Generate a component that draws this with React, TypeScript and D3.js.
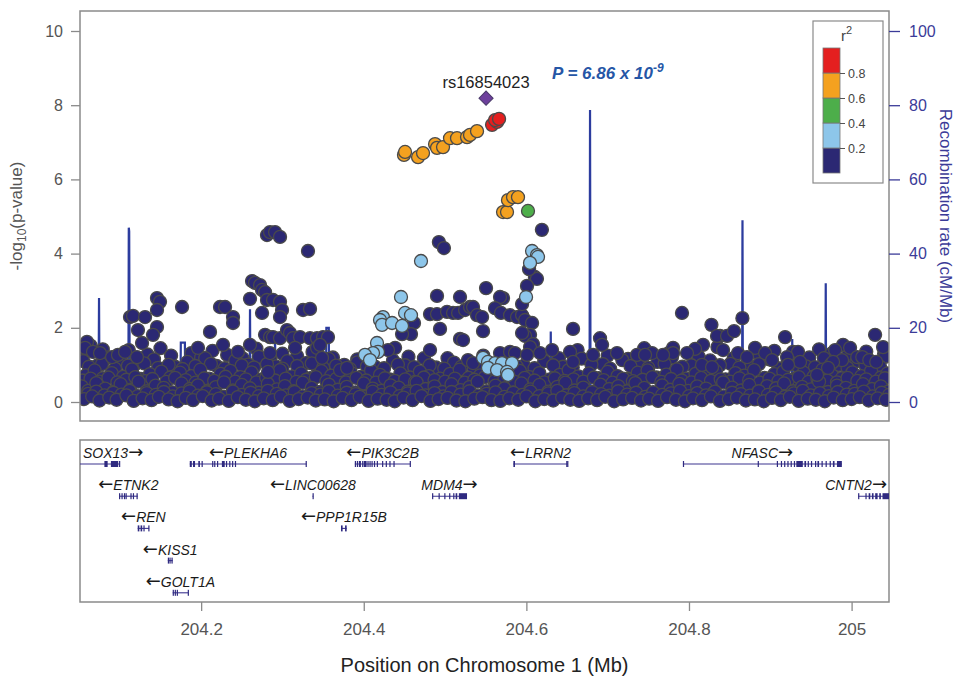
import React, { useEffect, useRef } from 'react';
import * as d3 from 'd3';

// ---- axis ticks ----
const yTicks = [0, 2, 4, 6, 8, 10];
const recTicks = [0, 20, 40, 60, 80, 100];
const xTicks = [204.2, 204.4, 204.6, 204.8, 205];
const xTickLabels = ['204.2', '204.4', '204.6', '204.8', '205'];

// ---- LD legend ----
const ldBreaks = [0, 0.2, 0.4, 0.6, 0.8, 1];
const ldColors = ['#2b2873', '#8dc6ea', '#4dae4a', '#f4a11f', '#e41f1f'];

// ---- SNPs: [position Mb, -log10 p] ----
const leadSnp: [number, number] = [204.5504, 8.19];
const leadSnpName = 'rs16854023';
const leadP = 'P = 6.86 x 10';
const leadPExp = '-9';

const snpsRed: [number, number][] = [
  [204.5578, 7.47], [204.564, 7.55], [204.5615, 7.6], [204.5664, 7.63],
];

const snpsOrange: [number, number][] = [
  [204.4495, 6.66], [204.4508, 6.74], [204.4668, 6.6], [204.4729, 6.71], [204.4877, 6.95],
  [204.4901, 6.85], [204.4975, 6.87], [204.5061, 7.11], [204.5147, 7.11], [204.527, 7.14],
  [204.5307, 7.2], [204.5393, 7.3],
  [204.5713, 5.12], [204.5762, 5.12], [204.5774, 5.44], [204.5836, 5.52], [204.5897, 5.52],
];

const snpsGreen: [number, number][] = [[204.602, 5.15]];

const snpsLightBlue: [number, number][] = [
  [204.4704, 3.8], [204.4458, 2.83], [204.4237, 2.29], [204.42, 2.21], [204.4225, 2.08],
  [204.4348, 2.13], [204.4508, 2.4], [204.4581, 2.34], [204.4471, 2.05], [204.4163, 1.59],
  [204.4175, 1.35], [204.4114, 1.32], [204.4015, 1.27], [204.4077, 1.13],
  [204.5467, 1.19], [204.5528, 1.08], [204.5615, 1.05], [204.5701, 1.05], [204.5824, 1.05],
  [204.5528, 0.92], [204.5639, 0.86], [204.5762, 0.81], [204.5774, 0.73],
  [204.5996, 2.83], [204.607, 4.07], [204.6131, 3.96], [204.6143, 3.91], [204.6045, 3.75],
];

// navy SNPs standing above the dense band
const snpsNavyUpper: [number, number][] = [
  [204.0596, 1.62], [204.0572, 1.46], [204.067, 1.35], [204.0756, 1.32], [204.0904, 1.21],
  [204.0977, 1.27], [204.1064, 1.35], [204.1125, 2.29], [204.1162, 2.32], [204.1223, 1.94],
  [204.1273, 1.59], [204.1211, 1.21], [204.131, 2.29], [204.1457, 2.8], [204.1494, 2.7],
  [204.1457, 2.48], [204.1457, 2.02], [204.1408, 1.81], [204.1765, 2.56], [204.1961, 1.46],
  [204.2109, 1.89], [204.2232, 2.56], [204.2294, 2.56], [204.2392, 2.29], [204.2392, 2.13],
  [204.2269, 1.54], [204.2453, 1.35], [204.2601, 2.78], [204.2626, 3.26], [204.2662, 3.21],
  [204.2724, 3.15], [204.2749, 3.02], [204.2786, 2.96], [204.281, 4.5], [204.2847, 4.58],
  [204.2909, 4.58], [204.297, 4.45], [204.281, 2.75], [204.2884, 2.75], [204.297, 2.7],
  [204.2995, 2.48], [204.297, 2.29], [204.2749, 2.4], [204.2601, 1.54], [204.2786, 1.81],
  [204.2847, 1.75], [204.2884, 1.75], [204.297, 1.72], [204.3056, 1.94], [204.3093, 1.86],
  [204.313, 1.72], [204.3216, 1.75], [204.3155, 1.46], [204.3314, 4.07], [204.3253, 2.48],
  [204.3339, 2.51], [204.3339, 1.72], [204.3425, 1.72], [204.3499, 1.75], [204.356, 1.75],
  [204.3425, 1.46], [204.3462, 1.54], [204.3487, 1.19], [204.3708, 0.86], [204.3794, 0.92],
  [204.2847, 1.32], [204.2822, 0.81],
  [204.4924, 4.31], [204.4986, 4.15], [204.6191, 4.64], [204.6105, 3.37], [204.613, 3.32],
  [204.6033, 3.58], [204.6008, 3.13], [204.5504, 3.07], [204.4901, 2.86], [204.5184, 2.83],
  [204.5713, 2.8], [204.5676, 2.83], [204.4815, 2.37], [204.4901, 2.37], [204.5024, 2.43],
  [204.5098, 2.4], [204.516, 2.4], [204.5246, 2.48], [204.5307, 2.56], [204.5344, 2.56],
  [204.5393, 2.34], [204.5455, 2.29], [204.5615, 2.53], [204.5688, 2.4], [204.5799, 2.34],
  [204.5885, 2.29], [204.5947, 2.34], [204.5984, 2.21], [204.5947, 2.64], [204.4618, 2.13],
  [204.4581, 1.83], [204.4471, 1.83], [204.4938, 1.97], [204.5467, 1.91], [204.607, 2.13],
  [204.6045, 1.81], [204.5984, 1.78], [204.6574, 1.97], [204.5184, 1.7], [204.5221, 1.67],
  [204.4815, 1.4], [204.4385, 1.46], [204.4298, 1.4], [204.6082, 1.56], [204.6045, 1.48],
  [204.5676, 1.32], [204.5799, 1.35], [204.586, 1.32], [204.6008, 1.27], [204.6168, 1.32],
  [204.6316, 1.4], [204.6537, 1.35], [204.6574, 1.08], [204.6906, 1.72], [204.6931, 1.54],
  [204.682, 1.27], [204.7115, 1.32], [204.5282, 1.13], [204.5344, 1.05], [204.5947, 1.86],
  [204.7361, 1.27], [204.7546, 1.32], [204.746, 1.27],
  [204.7914, 2.4], [204.8657, 2.26], [204.8276, 2.08], [204.8382, 1.78], [204.8345, 1.78],
  [204.8468, 1.78], [204.8554, 1.91], [204.8173, 1.54], [204.8075, 1.43], [204.7976, 1.32],
  [204.7804, 1.46], [204.7804, 1.32], [204.7681, 1.27], [204.9182, 1.75], [204.928, 1.35],
  [204.9341, 1.35], [204.9366, 1.08], [204.8813, 1.46], [204.8936, 1.32], [204.9022, 1.13],
  [204.8603, 1.32], [204.8714, 1.21], [204.8419, 1.4], [204.816, 1.0], [204.8284, 0.94],
  [205.0289, 1.81], [205.0387, 1.48], [204.9895, 1.54], [204.9981, 1.46], [204.9797, 1.4],
  [205.0069, 1.21], [205.0131, 1.21], [205.0217, 1.13], [205.0303, 1.08], [204.9883, 1.13],
  [204.9772, 1.08], [204.9575, 0.73], [204.971, 0.92], [204.9206, 1.21], [204.9218, 1.0],
];

// dense band of weak SNPs near zero, read as rows of heights
const bandRowA: [number, number][] = [
  [204.056, .08], [204.066, .15], [204.075, .04], [204.087, .12], [204.096, .06], [204.108, .18],
  [204.117, .03], [204.128, .10], [204.139, .05], [204.148, .14], [204.160, .07], [204.171, .02],
  [204.181, .11], [204.190, .05], [204.202, .16], [204.213, .04], [204.222, .09], [204.234, .03],
  [204.245, .13], [204.255, .06], [204.266, .02], [204.277, .10], [204.288, .05], [204.298, .15],
  [204.309, .03], [204.320, .08], [204.331, .12], [204.341, .04], [204.352, .07], [204.363, .02],
  [204.374, .11], [204.385, .05], [204.395, .14], [204.406, .03], [204.417, .09], [204.428, .06],
  [204.438, .02], [204.449, .12], [204.460, .05], [204.471, .16], [204.482, .03], [204.492, .08],
  [204.503, .11], [204.514, .04], [204.525, .02], [204.536, .09], [204.546, .13], [204.557, .05],
  [204.568, .03], [204.579, .10], [204.590, .06], [204.600, .15], [204.611, .02], [204.622, .08],
  [204.633, .04], [204.644, .12], [204.654, .06], [204.665, .03], [204.676, .10], [204.687, .05],
  [204.697, .14], [204.708, .02], [204.719, .07], [204.730, .11], [204.741, .04], [204.751, .09],
  [204.762, .03], [204.773, .13], [204.784, .06], [204.795, .02], [204.805, .10], [204.816, .05],
  [204.827, .15], [204.838, .03], [204.849, .08], [204.859, .12], [204.870, .04], [204.881, .07],
  [204.892, .02], [204.902, .11], [204.913, .05], [204.924, .14], [204.935, .03], [204.946, .09],
  [204.956, .06], [204.967, .02], [204.978, .12], [204.989, .05], [205.000, .08], [205.010, .13],
  [205.021, .04], [205.032, .10], [205.042, .06],
];
const bandRowE: [number, number][] = [
  [204.061, .22], [204.071, .28], [204.081, .18], [204.092, .25], [204.102, .20], [204.112, .30],
  [204.122, .16], [204.133, .24], [204.144, .19], [204.154, .27], [204.165, .15], [204.176, .23],
  [204.186, .29], [204.196, .17], [204.207, .26], [204.218, .21], [204.228, .14], [204.239, .28],
  [204.250, .19], [204.261, .25], [204.271, .16], [204.282, .30], [204.293, .22], [204.304, .18],
  [204.315, .27], [204.325, .15], [204.336, .24], [204.347, .20], [204.357, .29], [204.368, .17],
  [204.379, .25], [204.390, .21], [204.401, .14], [204.411, .28], [204.422, .19], [204.433, .26],
  [204.444, .16], [204.454, .23], [204.465, .30], [204.476, .18], [204.487, .24], [204.498, .15],
  [204.508, .27], [204.519, .20], [204.530, .29], [204.541, .17], [204.551, .22], [204.562, .26],
  [204.573, .14], [204.584, .25], [204.595, .19], [204.605, .28], [204.616, .16], [204.627, .23],
  [204.638, .30], [204.649, .18], [204.659, .24], [204.670, .15], [204.681, .27], [204.692, .21],
  [204.702, .17], [204.713, .29], [204.724, .20], [204.735, .25], [204.746, .14], [204.756, .26],
  [204.767, .19], [204.778, .23], [204.789, .30], [204.800, .16], [204.810, .24], [204.821, .18],
  [204.832, .28], [204.843, .15], [204.853, .25], [204.864, .21], [204.875, .17], [204.886, .29],
  [204.897, .19], [204.907, .26], [204.918, .14], [204.929, .23], [204.940, .30], [204.950, .18],
  [204.961, .24], [204.972, .16], [204.983, .27], [204.994, .20], [205.004, .22], [205.015, .28],
  [205.026, .15], [205.037, .25], [205.046, .19],
];
const bandRowB: [number, number][] = [
  [204.053, .42], [204.061, .30], [204.071, .51], [204.082, .36], [204.092, .27], [204.101, .48],
  [204.113, .33], [204.123, .55], [204.133, .29], [204.144, .44], [204.154, .38], [204.165, .26],
  [204.176, .50], [204.186, .35], [204.196, .45], [204.207, .28], [204.218, .40], [204.228, .53],
  [204.239, .31], [204.250, .46], [204.260, .37], [204.271, .25], [204.282, .49], [204.293, .34],
  [204.303, .43], [204.314, .29], [204.325, .52], [204.336, .38], [204.346, .27], [204.357, .47],
  [204.368, .33], [204.379, .41], [204.390, .26], [204.400, .50], [204.411, .36], [204.422, .30],
  [204.433, .45], [204.443, .39], [204.454, .28], [204.465, .53], [204.476, .35], [204.487, .42],
  [204.497, .27], [204.508, .48], [204.519, .32], [204.530, .40], [204.540, .55], [204.551, .29],
  [204.562, .44], [204.573, .37], [204.584, .26], [204.594, .50], [204.605, .34], [204.616, .46],
  [204.627, .28], [204.638, .41], [204.648, .52], [204.659, .31], [204.670, .39], [204.681, .27],
  [204.691, .47], [204.702, .35], [204.713, .43], [204.724, .29], [204.734, .51], [204.745, .38],
  [204.756, .26], [204.767, .45], [204.777, .33], [204.788, .49], [204.799, .30], [204.810, .42],
  [204.821, .36], [204.831, .27], [204.842, .53], [204.853, .39], [204.864, .31], [204.874, .46],
  [204.885, .28], [204.896, .43], [204.907, .37], [204.917, .50], [204.928, .29], [204.939, .41],
  [204.950, .34], [204.960, .55], [204.971, .27], [204.982, .44], [204.993, .38], [205.003, .30],
  [205.014, .48], [205.025, .35], [205.036, .42], [205.045, .28],
];
const bandRowF: [number, number][] = [
  [204.054, .58], [204.064, .63], [204.075, .55], [204.086, .66], [204.097, .53], [204.108, .60],
  [204.119, .67], [204.131, .56], [204.140, .62], [204.157, .54], [204.168, .65], [204.181, .59],
  [204.193, .52], [204.204, .64], [204.216, .57], [204.230, .68], [204.242, .55], [204.255, .61],
  [204.268, .53], [204.280, .66], [204.291, .58], [204.304, .63], [204.317, .54], [204.329, .60],
  [204.341, .67], [204.354, .56], [204.366, .62], [204.378, .53], [204.391, .65], [204.403, .58],
  [204.415, .52], [204.426, .64], [204.438, .57], [204.451, .61], [204.463, .54], [204.474, .66],
  [204.487, .59], [204.500, .55], [204.512, .63], [204.524, .52], [204.536, .60], [204.549, .67],
  [204.561, .56], [204.573, .62], [204.586, .54], [204.598, .65], [204.610, .58], [204.622, .53],
  [204.635, .64], [204.647, .57], [204.658, .61], [204.670, .55], [204.683, .66], [204.695, .59],
  [204.706, .52], [204.719, .63], [204.731, .56], [204.743, .60], [204.755, .67], [204.766, .54],
  [204.778, .62], [204.791, .58], [204.803, .53], [204.815, .65], [204.827, .57], [204.839, .61],
  [204.851, .55], [204.862, .64], [204.874, .59], [204.887, .52], [204.899, .63], [204.910, .56],
  [204.922, .60], [204.935, .67], [204.947, .54], [204.958, .62], [204.970, .58], [204.982, .53],
  [204.995, .65], [205.007, .57], [205.018, .61], [205.030, .55], [205.041, .64],
];
const bandRowC: [number, number][] = [
  [204.058, .72], [204.069, .85], [204.079, .64], [204.090, .78], [204.104, .68], [204.115, .88],
  [204.126, .62], [204.137, .75], [204.151, .82], [204.162, .66], [204.174, .79], [204.188, .70],
  [204.199, .87], [204.210, .63], [204.224, .76], [204.236, .84], [204.248, .67], [204.262, .80],
  [204.274, .61], [204.286, .74], [204.297, .86], [204.311, .69], [204.323, .77], [204.334, .64],
  [204.348, .83], [204.360, .71], [204.372, .62], [204.384, .79], [204.397, .68], [204.409, .85],
  [204.420, .73], [204.432, .61], [204.445, .77], [204.457, .66], [204.469, .82], [204.480, .70],
  [204.494, .63], [204.506, .76], [204.518, .87], [204.529, .65], [204.543, .72], [204.555, .80],
  [204.567, .62], [204.580, .75], [204.592, .84], [204.604, .67], [204.616, .78], [204.629, .61],
  [204.641, .73], [204.652, .86], [204.664, .69], [204.677, .77], [204.689, .64], [204.700, .81],
  [204.712, .70], [204.725, .62], [204.737, .79], [204.749, .85], [204.760, .66], [204.772, .74],
  [204.785, .88], [204.797, .63], [204.808, .76], [204.821, .69], [204.833, .83], [204.845, .61],
  [204.857, .78], [204.868, .71], [204.880, .86], [204.893, .65], [204.905, .75], [204.916, .82],
  [204.929, .62], [204.941, .79], [204.953, .68], [204.964, .87], [204.976, .72], [204.988, .64],
  [205.001, .80], [205.012, .70], [205.024, .84], [205.036, .66], [205.044, .77],
];
const bandRowG: [number, number][] = [
  [204.062, .95], [204.078, 1.02], [204.094, .90], [204.110, .98], [204.130, 1.04], [204.147, .92],
  [204.160, 1.00], [204.177, .89], [204.193, .97], [204.212, 1.03], [204.229, .91], [204.250, .99],
  [204.265, .93], [204.281, 1.02], [204.300, .90], [204.318, .97], [204.336, 1.04], [204.350, .92],
  [204.366, .98], [204.383, .89], [204.404, .96], [204.425, .91], [204.442, 1.01], [204.462, .94],
  [204.481, .99], [204.499, .90], [204.520, .95], [204.545, .92], [204.588, .96], [204.610, .91],
  [204.633, .99], [204.657, .93], [204.680, 1.01], [204.703, .90], [204.728, .97], [204.750, .92],
  [204.770, 1.03], [204.792, .95], [204.815, .90], [204.838, .99], [204.862, .93], [204.886, 1.02],
  [204.910, .91], [204.933, .98], [204.955, .94], [204.975, 1.03], [204.995, .92], [205.017, .99],
  [205.035, .95],
];
const bandRowD: [number, number][] = [
  [204.055, 1.10], [204.072, 0.98], [204.085, 1.20], [204.119, 1.02], [204.142, 1.15], [204.168, 0.95],
  [204.183, 1.08], [204.205, 1.18], [204.219, 0.97], [204.242, 1.12], [204.258, 1.01], [204.271, 1.22],
  [204.292, 0.96], [204.306, 1.10], [204.329, 1.05], [204.343, 0.94], [204.357, 1.16], [204.376, 1.00],
  [204.392, 1.07], [204.414, 0.95], [204.436, 1.12], [204.451, 0.99], [204.474, 1.18], [204.489, 0.93],
  [204.511, 1.06], [204.534, 0.96], [204.575, 1.14], [204.597, 0.98], [204.622, 1.10], [204.645, 0.95],
  [204.668, 1.17], [204.694, 1.02], [204.718, 1.13], [204.739, 0.97], [204.761, 1.08], [204.779, 1.20],
  [204.803, 0.99], [204.826, 1.12], [204.851, 1.03], [204.877, 0.95], [204.899, 1.15], [204.921, 1.05],
  [204.944, 0.96], [204.966, 1.18], [204.984, 1.00], [205.006, 1.10], [205.027, 0.94], [205.041, 1.22],
];
const bandRowH: [number, number][] = [
  [204.052, 1.30], [204.064, 1.52], [204.079, 1.42], [204.101, 1.12], [204.111, 1.40], [204.134, 1.28],
  [204.150, 1.45], [204.163, 1.25], [204.188, 1.32], [204.200, 1.20], [204.214, 1.38], [204.232, 1.27],
  [204.251, 1.18], [204.268, 1.44], [204.285, 1.15], [204.300, 1.30], [204.318, 1.24], [204.337, 1.35],
  [204.362, 1.20], [204.392, 1.15], [204.455, 1.22], [204.503, 1.18], [204.547, 1.25], [204.640, 1.18],
  [204.663, 1.40], [204.700, 1.25], [204.725, 1.16], [204.745, 1.45], [204.775, 1.32], [204.812, 1.22],
  [204.835, 1.48], [204.855, 1.18], [204.887, 1.25], [204.905, 1.38], [204.948, 1.20], [204.960, 1.42],
  [204.975, 1.30], [204.995, 1.24], [205.018, 1.36], [205.040, 1.30],
];

// ---- recombination rate (cM/Mb) ----
const recPos = [
  204.051, 204.070, 204.0738, 204.0744, 204.075, 204.095, 204.1105, 204.111, 204.1115, 204.1122,
  204.140, 204.1745, 204.175, 204.180, 204.1805, 204.220, 204.2595, 204.2601, 204.2607, 204.2903,
  204.2909, 204.2915, 204.330, 204.3535, 204.354, 204.357, 204.3575, 204.420, 204.4465, 204.447,
  204.452, 204.4525, 204.500, 204.5665, 204.567, 204.5675, 204.6015, 204.602, 204.6025, 204.6295,
  204.630, 204.6305, 204.6777, 204.6783, 204.6789, 204.7145, 204.715, 204.7155, 204.770, 204.8275,
  204.828, 204.8285, 204.8653, 204.8658, 204.8663, 204.8805, 204.881, 204.8815, 204.9265, 204.927,
  204.9275, 204.9677, 204.9682, 204.9687, 204.9795, 204.980, 204.9805, 205.010, 205.047,
];
const recRate = [
  2, 1.5, 2, 28, 2, 1, 1.5, 47, 46, 2,
  1, 2, 16, 16, 1, 0.8, 2, 25, 1, 1.5,
  19, 1.5, 0.5, 1, 20, 20, 1, 0.5, 1, 6,
  6, 0.5, 0.6, 0.5, 4, 0.5, 0.5, 4, 0.5, 0.5,
  19, 1, 1, 78.7, 1, 1, 8, 1, 1.5, 1,
  7, 1, 1, 49, 1, 1, 5, 1, 1, 17,
  1, 1, 32, 1, 1, 12, 1, 2, 1,
];

// ---- genes ----
type Gene = { name: string; start: number; end: number; strand: 1 | -1; row: number; exons: [number, number][] };
const genes: Gene[] = [
  { name: 'SOX13', start: 204.02, end: 204.1, strand: 1, row: 0,
    exons: [[204.081, 204.085], [204.089, 204.098], [204.099, 204.1]] },
  { name: 'PLEKHA6', start: 204.186, end: 204.3295, strand: -1, row: 0,
    exons: [[204.186, 204.1885], [204.19, 204.1925], [204.1965, 204.1985], [204.2005, 204.2015],
      [204.2135, 204.2145], [204.216, 204.217], [204.2195, 204.2205], [204.2255, 204.229],
      [204.2305, 204.2315], [204.2345, 204.2355], [204.238, 204.239], [204.2415, 204.2425],
      [204.3285, 204.3295]] },
  { name: 'PIK3C2B', start: 204.389, end: 204.4575, strand: -1, row: 0,
    exons: [[204.389, 204.3905], [204.3915, 204.393], [204.394, 204.3965], [204.398, 204.399],
      [204.4, 204.4035], [204.4045, 204.4055], [204.407, 204.408], [204.4095, 204.4105],
      [204.4125, 204.4135], [204.416, 204.417], [204.4225, 204.4235], [204.427, 204.428],
      [204.4315, 204.4325], [204.4365, 204.4375], [204.4565, 204.4575]] },
  { name: 'LRRN2', start: 204.584, end: 204.651, strand: -1, row: 0,
    exons: [[204.584, 204.586], [204.649, 204.6495], [204.6502, 204.651]] },
  { name: 'NFASC', start: 204.7925, end: 204.988, strand: 1, row: 0,
    exons: [[204.7925, 204.7935], [204.8845, 204.8855], [204.908, 204.909], [204.913, 204.914],
      [204.917, 204.918], [204.921, 204.9225], [204.925, 204.926], [204.929, 204.9295],
      [204.932, 204.94], [204.942, 204.944], [204.946, 204.947], [204.95, 204.951],
      [204.955, 204.956], [204.958, 204.96], [204.963, 204.9645], [204.968, 204.969],
      [204.973, 204.974], [204.977, 204.979], [204.982, 204.988]] },
  { name: 'ETNK2', start: 204.099, end: 204.122, strand: -1, row: 1,
    exons: [[204.099, 204.1], [204.102, 204.103], [204.105, 204.106], [204.107, 204.108],
      [204.113, 204.114], [204.116, 204.117], [204.1205, 204.122]] },
  { name: 'LINC00628', start: 204.337, end: 204.338, strand: -1, row: 1, exons: [[204.337, 204.338]] },
  { name: 'MDM4', start: 204.484, end: 204.527, strand: 1, row: 1,
    exons: [[204.484, 204.485], [204.492, 204.493], [204.499, 204.5], [204.505, 204.506],
      [204.51, 204.511], [204.513, 204.515], [204.517, 204.527]] },
  { name: 'CNTN2', start: 205.008, end: 205.06, strand: 1, row: 1,
    exons: [[205.008, 205.009], [205.017, 205.018], [205.021, 205.023], [205.025, 205.027],
      [205.029, 205.032], [205.034, 205.036], [205.038, 205.046]] },
  { name: 'REN', start: 204.122, end: 204.136, strand: -1, row: 2,
    exons: [[204.122, 204.124], [204.1255, 204.1275], [204.129, 204.13], [204.135, 204.136]] },
  { name: 'PPP1R15B', start: 204.372, end: 204.379, strand: -1, row: 2,
    exons: [[204.372, 204.374], [204.377, 204.379]] },
  { name: 'KISS1', start: 204.159, end: 204.165, strand: -1, row: 3,
    exons: [[204.159, 204.1595], [204.161, 204.1615], [204.1635, 204.165]] },
  { name: 'GOLT1A', start: 204.165, end: 204.184, strand: -1, row: 4,
    exons: [[204.165, 204.166], [204.1675, 204.1685], [204.17, 204.171], [204.1835, 204.184]] },
];

const FONT = '"Liberation Sans", Arial, Helvetica, sans-serif';

export default function App() {
  const ref = useRef<SVGSVGElement>(null);

  useEffect(() => {
    const svg = d3.select(ref.current);
    svg.selectAll('*').remove();

    // layout
    const plotL = 80, plotR = 889, plotT = 11, plotB = 421;
    const geneT = 440, geneB = 602;

    const x = d3.scaleLinear().domain([204.051, 205.046]).range([plotL, plotR]);
    const y = d3.scaleLinear().domain([0, 10]).range([402, 31]);
    const yRec = d3.scaleLinear().domain([0, 100]).range([402, 31]);

    const defs = svg.append('defs');
    defs.append('clipPath').attr('id', 'plotClip')
      .append('rect').attr('x', plotL).attr('y', plotT).attr('width', plotR - plotL).attr('height', plotB - plotT);
    defs.append('clipPath').attr('id', 'geneClip')
      .append('rect').attr('x', plotL).attr('y', geneT).attr('width', plotR - plotL).attr('height', geneB - geneT);

    // recombination line (behind SNPs)
    const recLine = d3.line<number>().x((d, i) => x(recPos[i])).y(d => yRec(d));
    svg.append('path')
      .attr('clip-path', 'url(#plotClip)')
      .attr('d', recLine(recRate))
      .attr('fill', 'none')
      .attr('stroke', '#2c3c9e')
      .attr('stroke-width', 2.2);

    // SNPs
    const pts = svg.append('g').attr('clip-path', 'url(#plotClip)');
    const drawPts = (data: [number, number][], fill: string) => {
      pts.append('g').selectAll('circle').data(data).join('circle')
        .attr('cx', d => x(d[0]))
        .attr('cy', d => y(d[1]))
        .attr('r', 6.5)
        .attr('fill', fill)
        .attr('stroke', '#4a4a4a')
        .attr('stroke-width', 1.3);
    };
    [bandRowH, bandRowD, bandRowG, bandRowC, bandRowF, bandRowB, bandRowE, bandRowA]
      .forEach(row => drawPts(row, ldColors[0]));
    drawPts(snpsNavyUpper, ldColors[0]);
    drawPts(snpsLightBlue, ldColors[1]);
    drawPts(snpsGreen, ldColors[2]);
    drawPts(snpsOrange, ldColors[3]);
    drawPts(snpsRed, ldColors[4]);

    pts.append('path')
      .attr('d', d3.symbol(d3.symbolSquare, 100)())
      .attr('transform', `translate(${x(leadSnp[0])},${y(leadSnp[1])}) rotate(45)`)
      .attr('fill', '#6d3f9c')
      .attr('stroke', '#4a3a6a')
      .attr('stroke-width', 1);

    svg.append('text')
      .attr('x', x(leadSnp[0]))
      .attr('y', y(leadSnp[1]) - 10)
      .attr('text-anchor', 'middle')
      .attr('font-family', FONT).attr('font-size', 16.5).attr('fill', '#222')
      .text(leadSnpName);

    const pText = svg.append('text')
      .attr('x', 552).attr('y', 79)
      .attr('font-family', FONT).attr('font-size', 17)
      .attr('font-weight', 'bold').attr('font-style', 'italic')
      .attr('fill', '#2556a6');
    pText.append('tspan').text(leadP);
    pText.append('tspan').attr('dy', -7).attr('font-size', 12).text(leadPExp);

    // plot frame
    svg.append('rect')
      .attr('x', plotL).attr('y', plotT).attr('width', plotR - plotL).attr('height', plotB - plotT)
      .attr('fill', 'none').attr('stroke', '#8a8a8a').attr('stroke-width', 1.5);

    // left axis
    const yAxis = svg.append('g')
      .attr('transform', `translate(${plotL},0)`)
      .call(d3.axisLeft(y).tickValues(yTicks).tickSize(9).tickPadding(8).tickFormat(d3.format('d')));
    yAxis.select('.domain').remove();
    yAxis.selectAll('line').attr('stroke', '#8a8a8a').attr('stroke-width', 1.3);
    yAxis.selectAll('text').attr('font-family', FONT).attr('font-size', 16).attr('fill', '#555');

    const yLab = svg.append('text')
      .attr('transform', `translate(22,${(plotT + plotB) / 2}) rotate(-90)`)
      .attr('text-anchor', 'middle')
      .attr('font-family', FONT).attr('font-size', 17).attr('fill', '#555');
    yLab.append('tspan').text('-log');
    yLab.append('tspan').attr('font-size', 12).attr('dy', 4).text('10');
    yLab.append('tspan').attr('dy', -4).text('(p-value)');

    // right axis
    const rAxis = svg.append('g')
      .attr('transform', `translate(${plotR},0)`)
      .call(d3.axisRight(yRec).tickValues(recTicks).tickSize(11).tickPadding(9));
    rAxis.select('.domain').remove();
    rAxis.selectAll('line').attr('stroke', '#3b3b98').attr('stroke-width', 1.3);
    rAxis.selectAll('text').attr('font-family', FONT).attr('font-size', 16).attr('fill', '#3b3b98');

    svg.append('text')
      .attr('transform', `translate(940,${(plotT + plotB) / 2}) rotate(90)`)
      .attr('text-anchor', 'middle')
      .attr('font-family', FONT).attr('font-size', 17).attr('fill', '#3b3b98')
      .text('Recombination rate (cM/Mb)');

    // legend
    const legL = 813, legT = 21, legW = 70, legH = 162;
    svg.append('rect').attr('x', legL).attr('y', legT).attr('width', legW).attr('height', legH)
      .attr('fill', '#fff').attr('stroke', '#8a8a8a').attr('stroke-width', 1.2);
    const lt = svg.append('text').attr('x', 841).attr('y', 41)
      .attr('font-family', FONT).attr('font-size', 15).attr('fill', '#444');
    lt.append('tspan').text('r');
    lt.append('tspan').attr('dy', -7).attr('font-size', 11).text('2');
    const leg = d3.scaleLinear().domain([0, 1]).range([173, 48]);
    svg.append('g').selectAll('rect').data(ldColors).join('rect')
      .attr('x', 823).attr('width', 17)
      .attr('y', (d, i) => leg(ldBreaks[i + 1]))
      .attr('height', (d, i) => leg(ldBreaks[i]) - leg(ldBreaks[i + 1]))
      .attr('fill', d => d).attr('stroke', '#777').attr('stroke-width', 0.8);
    const legAxis = svg.append('g').attr('transform', 'translate(840,0)')
      .call(d3.axisRight(leg).tickValues(ldBreaks.slice(1, 5)).tickSize(5).tickPadding(3).tickFormat(d3.format('.1f')));
    legAxis.select('.domain').remove();
    legAxis.selectAll('line').attr('stroke', '#555');
    legAxis.selectAll('text').attr('font-family', FONT).attr('font-size', 12.5).attr('fill', '#444');

    // gene panel
    svg.append('rect')
      .attr('x', plotL).attr('y', geneT).attr('width', plotR - plotL).attr('height', geneB - geneT)
      .attr('fill', 'none').attr('stroke', '#8a8a8a').attr('stroke-width', 1.5);
    const gg = svg.append('g');
    const rowY = (r: number) => 464 + r * 32.2;
    genes.forEach(g => {
      const cy = rowY(g.row);
      const grp = gg.append('g').attr('clip-path', 'url(#geneClip)');
      grp.append('line')
        .attr('x1', x(g.start)).attr('x2', x(g.end)).attr('y1', cy).attr('y2', cy)
        .attr('stroke', '#3d3590').attr('stroke-width', 1.1);
      grp.selectAll('rect').data(g.exons).join('rect')
        .attr('x', d => x(d[0]))
        .attr('width', d => Math.max(1.2, x(d[1]) - x(d[0])))
        .attr('y', cy - 3).attr('height', 6)
        .attr('fill', '#2f2a80');
      const t = gg.append('text')
        .attr('y', cy - 6)
        .attr('text-anchor', 'middle')
        .attr('font-family', FONT).attr('font-size', 14).attr('font-style', 'italic')
        .attr('fill', '#1a1a1a');
      const arrow = (s: string) => t.append('tspan')
        .attr('font-family', '"DejaVu Sans", sans-serif').attr('font-style', 'normal')
        .attr('font-size', 18).text(s);
      if (g.strand < 0) arrow('\u2190');
      t.append('tspan').text(g.name);
      if (g.strand > 0) arrow('\u2192');
      const w = (t.node() as SVGTextElement).getComputedTextLength();
      let cx = x((g.start + g.end) / 2);
      cx = Math.max(plotL + w / 2 + 3, Math.min(plotR - w / 2 - 2, cx));
      t.attr('x', cx);
    });

    // x axis under gene panel
    const xAxis = svg.append('g')
      .attr('transform', `translate(0,${geneB})`)
      .call(d3.axisBottom(x).tickValues(xTicks).tickSize(9).tickPadding(12)
        .tickFormat((d, i) => xTickLabels[i]));
    xAxis.select('.domain').remove();
    xAxis.selectAll('line').attr('stroke', '#8a8a8a').attr('stroke-width', 1.3);
    xAxis.selectAll('text').attr('font-family', FONT).attr('font-size', 17).attr('fill', '#555');

    svg.append('text')
      .attr('x', (plotL + plotR) / 2).attr('y', 672)
      .attr('text-anchor', 'middle')
      .attr('font-family', FONT).attr('font-size', 20).attr('fill', '#222')
      .text('Position on Chromosome 1 (Mb)');
  }, []);

  return (
    <svg ref={ref} width={957} height={683}
      style={{ position: 'absolute', left: 0, top: 0, background: '#fff' }} />
  );
}
